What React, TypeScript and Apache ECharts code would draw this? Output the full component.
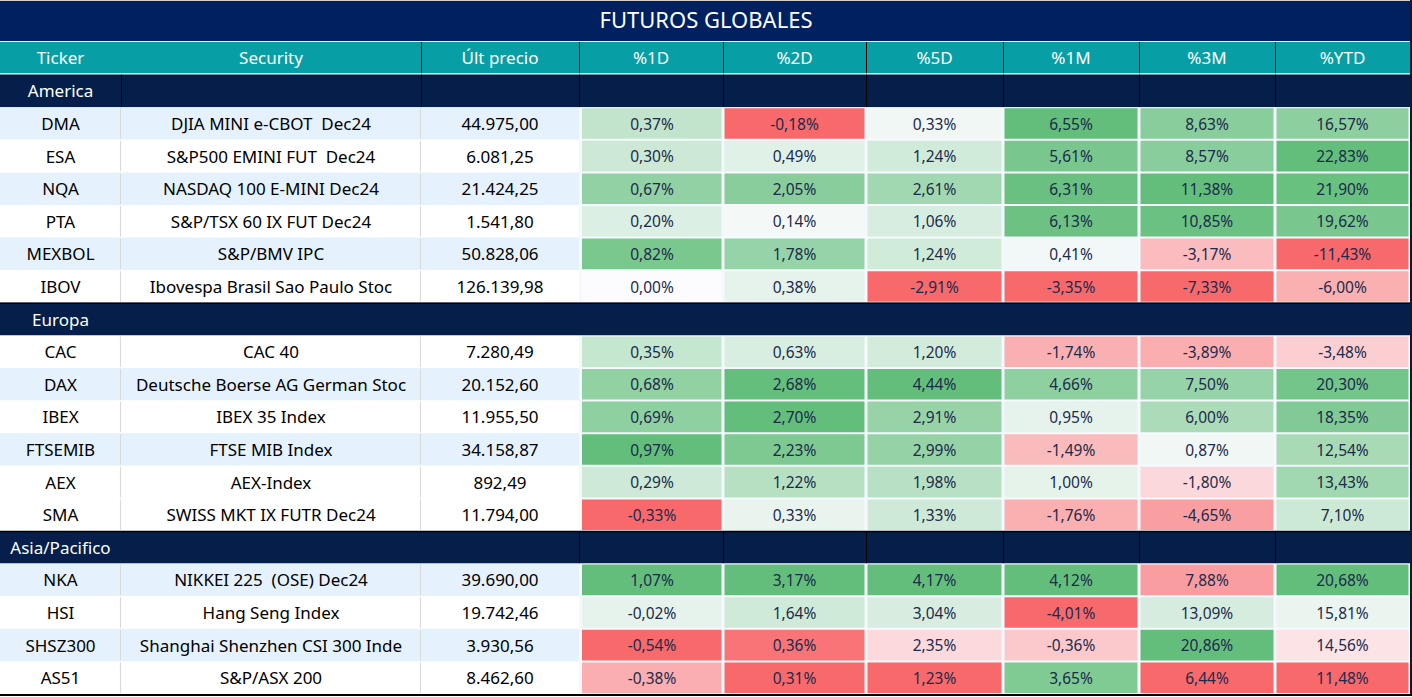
import React, { useEffect, useRef } from "react";
import * as echarts from "echarts";

// ---------- DATA ----------
const TITLE = "FUTUROS GLOBALES";
const COLUMNS = ["Ticker", "Security", "Últ precio", "%1D", "%2D", "%5D", "%1M", "%3M", "%YTD"];
const SECTIONS = ["America", "Europa", "Asia/Pacifico"];

const AMERICA_TICKERS = ["DMA", "ESA", "NQA", "PTA", "MEXBOL", "IBOV"];
const AMERICA_SECURITIES = [
  "DJIA MINI e-CBOT  Dec24",
  "S&P500 EMINI FUT  Dec24",
  "NASDAQ 100 E-MINI Dec24",
  "S&P/TSX 60 IX FUT Dec24",
  "S&P/BMV IPC",
  "Ibovespa Brasil Sao Paulo Stoc",
];
const AMERICA_PRICES = [44975.0, 6081.25, 21424.25, 1541.8, 50828.06, 126139.98];
const AMERICA_CHANGES = [
  [0.37, -0.18, 0.33, 6.55, 8.63, 16.57],
  [0.3, 0.49, 1.24, 5.61, 8.57, 22.83],
  [0.67, 2.05, 2.61, 6.31, 11.38, 21.9],
  [0.2, 0.14, 1.06, 6.13, 10.85, 19.62],
  [0.82, 1.78, 1.24, 0.41, -3.17, -11.43],
  [0.0, 0.38, -2.91, -3.35, -7.33, -6.0],
];

const EUROPA_TICKERS = ["CAC", "DAX", "IBEX", "FTSEMIB", "AEX", "SMA"];
const EUROPA_SECURITIES = [
  "CAC 40",
  "Deutsche Boerse AG German Stoc",
  "IBEX 35 Index",
  "FTSE MIB Index",
  "AEX-Index",
  "SWISS MKT IX FUTR Dec24",
];
const EUROPA_PRICES = [7280.49, 20152.6, 11955.5, 34158.87, 892.49, 11794.0];
const EUROPA_CHANGES = [
  [0.35, 0.63, 1.2, -1.74, -3.89, -3.48],
  [0.68, 2.68, 4.44, 4.66, 7.5, 20.3],
  [0.69, 2.7, 2.91, 0.95, 6.0, 18.35],
  [0.97, 2.23, 2.99, -1.49, 0.87, 12.54],
  [0.29, 1.22, 1.98, 1.0, -1.8, 13.43],
  [-0.33, 0.33, 1.33, -1.76, -4.65, 7.1],
];

const ASIA_TICKERS = ["NKA", "HSI", "SHSZ300", "AS51"];
const ASIA_SECURITIES = [
  "NIKKEI 225  (OSE) Dec24",
  "Hang Seng Index",
  "Shanghai Shenzhen CSI 300 Inde",
  "S&P/ASX 200",
];
const ASIA_PRICES = [39690.0, 19742.46, 3930.56, 8462.6];
const ASIA_CHANGES = [
  [1.07, 3.17, 4.17, 4.12, 7.88, 20.68],
  [-0.02, 1.64, 3.04, -4.01, 13.09, 15.81],
  [-0.54, 0.36, 2.35, -0.36, 20.86, 14.56],
  [-0.38, 0.31, 1.23, 3.65, 6.44, 11.48],
];

// ---------- STYLE / LAYOUT ----------
const COL_WIDTHS = [121, 300, 158, 144, 143, 137, 136, 136, 135];
const TABLE_TOP = 42;
const TABLE_HEIGHT = 652;
const FONT = "'Noto Sans', 'DejaVu Sans', sans-serif";
const NAVY_TITLE = "#002060";
const NAVY_SECTION = "#051F4A";
const TEAL = "#079FA5";
const ROW_BLUE = "#E5F2FD";
const HEAT_TEXT = "#1B2B4B";
const SHADED_TICKERS = ["DMA", "NQA", "MEXBOL", "DAX", "FTSEMIB", "NKA", "SHSZ300"];
const HEADER_SEP_FROM = 2;
const SECTION_SEP_FROM: Record<string, number> = { America: 1, Europa: 99, "Asia/Pacifico": 3 };
// colour scale groups (Excel 3-colour scale): midpoint zero or median
const SCALE_GROUPS = [
  { sections: ["America", "Europa"], mid: "zero" },
  { sections: ["Asia/Pacifico"], mid: "median" },
];
const RED = [248, 105, 107];
const WHITE = [252, 252, 255];
const GREEN = [99, 190, 123];

const SECTION_DATA: Record<string, { tickers: string[]; securities: string[]; prices: number[]; changes: number[][] }> = {
  America: { tickers: AMERICA_TICKERS, securities: AMERICA_SECURITIES, prices: AMERICA_PRICES, changes: AMERICA_CHANGES },
  Europa: { tickers: EUROPA_TICKERS, securities: EUROPA_SECURITIES, prices: EUROPA_PRICES, changes: EUROPA_CHANGES },
  "Asia/Pacifico": { tickers: ASIA_TICKERS, securities: ASIA_SECURITIES, prices: ASIA_PRICES, changes: ASIA_CHANGES },
};

function fmtPrice(v: number): string {
  const [i, d] = v.toFixed(2).split(".");
  return i.replace(/\B(?=(\d{3})+(?!\d))/g, ".") + "," + d;
}
function fmtPct(v: number): string {
  return v.toFixed(2).replace(".", ",") + "%";
}
function mix(a: number[], b: number[], t: number): string {
  const tt = Math.max(0, Math.min(1, t));
  return "rgb(" + a.map((v, i) => Math.round(v + (b[i] - v) * tt)).join(",") + ")";
}
function median(arr: number[]): number {
  const s = [...arr].sort((a, b) => a - b);
  const n = s.length;
  return n % 2 ? s[(n - 1) / 2] : (s[n / 2 - 1] + s[n / 2]) / 2;
}

type Row =
  | { kind: "header" }
  | { kind: "section"; name: string }
  | { kind: "data"; section: string; ticker: string; security: string; price: number; changes: number[]; colors: string[] };

function buildRows(): Row[] {
  const colorMap: Record<string, string[][]> = {};
  SCALE_GROUPS.forEach((g) => {
    for (let j = 0; j < 6; j++) {
      const vals: number[] = [];
      g.sections.forEach((s) => SECTION_DATA[s].changes.forEach((r) => vals.push(r[j])));
      const min = Math.min(...vals);
      const max = Math.max(...vals);
      const mid = g.mid === "zero" ? 0 : median(vals);
      g.sections.forEach((s) => {
        if (!colorMap[s]) colorMap[s] = SECTION_DATA[s].changes.map(() => []);
        SECTION_DATA[s].changes.forEach((r, ri) => {
          const v = r[j];
          let c: string;
          if (v <= mid) c = mid === min ? mix(WHITE, WHITE, 0) : mix(RED, WHITE, (v - min) / (mid - min));
          else c = mix(WHITE, GREEN, (v - mid) / (max - mid));
          colorMap[s][ri][j] = c;
        });
      });
    }
  });
  const rows: Row[] = [{ kind: "header" }];
  SECTIONS.forEach((s) => {
    rows.push({ kind: "section", name: s });
    const d = SECTION_DATA[s];
    d.tickers.forEach((t, i) =>
      rows.push({
        kind: "data",
        section: s,
        ticker: t,
        security: d.securities[i],
        price: d.prices[i],
        changes: d.changes[i],
        colors: colorMap[s][i],
      })
    );
  });
  return rows;
}

function buildOption() {
  const rows = buildRows();
  const rowKeys = rows.map((r, i) => (r.kind === "header" ? "header" : r.kind === "section" ? r.name : r.ticker) + "_" + i);
  const lefts: number[] = [];
  let acc = 0;
  COL_WIDTHS.forEach((w) => {
    lefts.push(acc);
    acc += w;
  });
  const tableRight = acc;

  const grids = COL_WIDTHS.map((w, i) => ({ left: lefts[i], top: TABLE_TOP, width: w, height: TABLE_HEIGHT }));
  const xAxes = COLUMNS.map((c, i) => ({ type: "category", gridIndex: i, data: [c], show: false }));
  const yAxes = COLUMNS.map((_, i) => ({ type: "category", gridIndex: i, data: rowKeys, inverse: true, show: false }));

  const series = COLUMNS.map((col, ci) => ({
    type: "custom",
    xAxisIndex: ci,
    yAxisIndex: ci,
    clip: false,
    data: rows.map((_, ri) => [0, ri]),
    renderItem: (params: any, api: any) => {
      const ri = params.dataIndex;
      const row = rows[ri];
      const c = api.coord([0, ri]);
      const sz = api.size([1, 1]);
      const w = sz[0];
      const h = sz[1];
      const x0 = c[0] - w / 2;
      const y0 = c[1] - h / 2;
      const children: any[] = [];
      if (row.kind === "header") {
        children.push({ type: "rect", shape: { x: x0, y: y0, width: w, height: h - 1.4 }, style: { fill: TEAL } });
        if (ci >= HEADER_SEP_FROM)
          children.push({ type: "line", shape: { x1: x0 + 0.5, y1: y0, x2: x0 + 0.5, y2: y0 + h - 1.4 }, style: { stroke: "#000", lineWidth: 1 } });
        children.push({
          type: "text",
          x: c[0],
          y: c[1] - 0.5,
          style: { text: col, fill: "#fff", fontSize: 17, fontFamily: FONT, align: "center", verticalAlign: "middle" },
        });
      } else if (row.kind === "section") {
        children.push({ type: "rect", shape: { x: x0, y: y0, width: w, height: h }, style: { fill: NAVY_SECTION } });
        if (ci >= SECTION_SEP_FROM[row.name] && ci > 0)
          children.push({ type: "line", shape: { x1: x0 + 0.5, y1: y0, x2: x0 + 0.5, y2: y0 + h }, style: { stroke: "#000", lineWidth: 1 } });
        if (row.name !== "America")
          children.push({ type: "line", shape: { x1: x0, y1: y0 + 0.5, x2: x0 + w, y2: y0 + 0.5 }, style: { stroke: "#000", lineWidth: 1.5 } });
        if (ci === 0)
          children.push({
            type: "text",
            x: c[0],
            y: c[1],
            style: { text: row.name, fill: "#fff", fontSize: 17, fontFamily: FONT, align: "center", verticalAlign: "middle" },
          });
      } else {
        if (ci < 3) {
          const shaded = SHADED_TICKERS.indexOf(row.ticker) >= 0;
          children.push({ type: "rect", shape: { x: x0, y: y0, width: w, height: h }, style: { fill: shaded ? ROW_BLUE : "#fff" } });
          if (ci < 2)
            children.push({ type: "line", shape: { x1: x0 + w - 0.5, y1: y0 + 1, x2: x0 + w - 0.5, y2: y0 + h - 1 }, style: { stroke: "#D9D9D9", lineWidth: 1.2 } });
          const text = ci === 0 ? row.ticker : ci === 1 ? row.security : fmtPrice(row.price);
          children.push({
            type: "text",
            x: c[0],
            y: c[1],
            style: { text, fill: "#000", fontSize: 17, fontFamily: FONT, align: "center", verticalAlign: "middle" },
          });
        } else {
          const j = ci - 3;
          children.push({ type: "rect", shape: { x: x0, y: y0, width: w, height: h }, style: { fill: "#F4F9FE" } });
          children.push({
            type: "rect",
            shape: { x: x0 + (ci === 3 ? 3 : 1.5), y: y0 + 1, width: w - (ci === 3 ? 4.5 : 3), height: h - 2 },
            style: { fill: row.colors[j] },
          });
          children.push({
            type: "text",
            x: c[0] + (ci === 3 ? 1 : 0),
            y: c[1],
            style: { text: fmtPct(row.changes[j]), fill: HEAT_TEXT, fontSize: 15.5, fontFamily: FONT, align: "center", verticalAlign: "middle" },
          });
        }
      }
      return { type: "group", children };
    },
  }));

  return {
    animation: false,
    backgroundColor: "#fff",
    title: {
      text: TITLE,
      left: "center",
      top: 8,
      padding: 0,
      z: 10,
      textStyle: { color: "#fff", fontSize: 22, fontWeight: "normal", fontFamily: FONT },
    },
    graphic: [
      { type: "rect", z: 0, shape: { x: 0, y: 0, width: tableRight, height: 41 }, style: { fill: NAVY_TITLE } },
      { type: "line", z: 100, shape: { x1: 0, y1: 0.5, x2: tableRight, y2: 0.5 }, style: { stroke: "#D0D0D0", lineWidth: 1 } },
      { type: "line", z: 100, shape: { x1: tableRight + 1, y1: 0, x2: tableRight + 1, y2: 696 }, style: { stroke: "#0B1A33", lineWidth: 2 } },
      { type: "line", z: 100, shape: { x1: 0, y1: 695, x2: tableRight + 2, y2: 695 }, style: { stroke: "#000", lineWidth: 2 } },
    ],
    grid: grids,
    xAxis: xAxes,
    yAxis: yAxes,
    series,
  };
}

export default function App() {
  const ref = useRef<HTMLDivElement>(null);
  useEffect(() => {
    if (!ref.current) return;
    const chart = echarts.init(ref.current, undefined, { renderer: "svg" });
    chart.setOption(buildOption() as any);
    return () => chart.dispose();
  }, []);
  return <div ref={ref} style={{ position: "fixed", left: 0, top: 0, width: 1412, height: 697 }} />;
}
